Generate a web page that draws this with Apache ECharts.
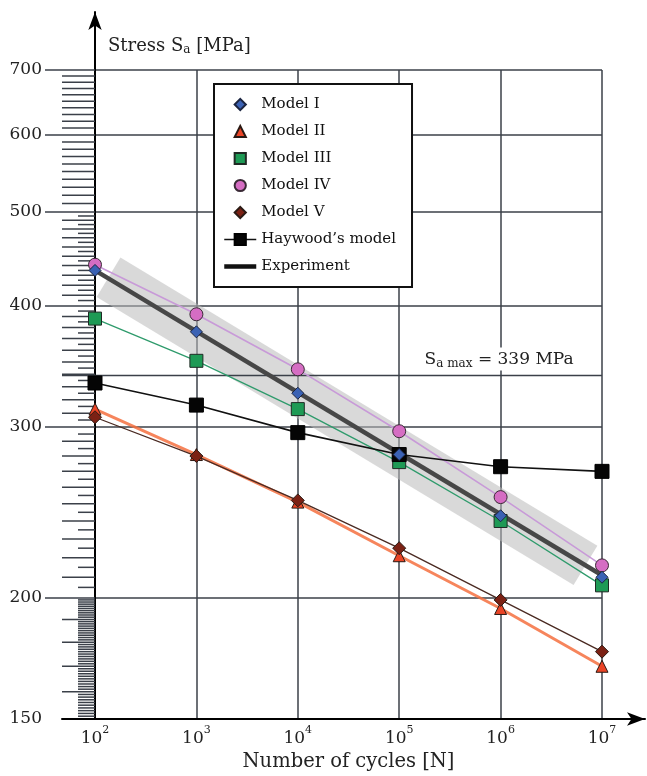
<!DOCTYPE html>
<html><head><meta charset="utf-8">
<script src="https://cdn.jsdelivr.net/npm/echarts@6/dist/echarts.min.js"></script>
<style>html,body{margin:0;padding:0;background:#fff}#c{width:647px;height:776px}</style>
</head><body><div id="c"></div>
<script>
// ---- data ----
const cycles   = [1e2, 1e3, 1e4, 1e5, 1e6, 1e7];
const modelI   = [435, 376, 325, 281, 243, 210];
const modelII  = [313, 281, 251, 221, 195, 170];
const modelIII = [388, 351, 313, 276, 240, 206];
const modelIV  = [441, 392, 344, 297, 254, 216];
const modelV   = [307, 280, 252, 225, 199, 176];
const haywood  = [333, 316, 296, 281, 273, 270];
const experimentN = [1e2, 1e7];
const experimentS = [435, 211];
const bandN = [136, 6.87e6];
const bandS = [428, 216];
const saMax = 339;
const saMaxLabelN = 1.7e5;
const yLabelTicks = [150, 200, 300, 400, 500, 600, 700];
const yGridTicks = [200, 300, 400, 500, 600, 700];
const xTicks = [1e2, 1e3, 1e4, 1e5, 1e6, 1e7];
const xExponents = ['2', '3', '4', '5', '6', '7'];
const legendNames = ['Model I', 'Model II', 'Model III', 'Model IV', 'Model V', 'Haywood\u2019s model', 'Experiment'];

// minor tick marks of the stress axis (axis decoration)
const longTicks = [];
const shortTicks = [];
for (let v = 160; v < 700; v += 10) if (v % 100 !== 0) longTicks.push(v);
for (let v = 151; v < 200; v++) if (v % 10 !== 0) shortTicks.push(v);
for (let v = 205; v < 500; v += 10) shortTicks.push(v);

const serif = 'DejaVu Serif';
const gridColor = '#3b4049';
const mk = (arr) => cycles.map((n, i) => [n, arr[i]]);
const noLine = { opacity: 0 };

const chart = echarts.init(document.getElementById('c'));
const option = {
  backgroundColor: '#fff',
  animation: false,
  grid: [
    { left: 95, right: 45, top: 70, bottom: 57, outerBoundsMode: 'none', containLabel: false },
    { left: 62, right: 2, top: 70, bottom: 57, outerBoundsMode: 'none', containLabel: false },
    { left: 95, width: 20, top: 12, bottom: 57, outerBoundsMode: 'none', containLabel: false }
  ],
  legend: {
    orient: 'vertical', left: 214, top: 84,
    itemWidth: 32, itemHeight: 14, itemGap: 12,
    padding: [13, 16, 13, 8],
    backgroundColor: '#fff', borderColor: '#111', borderWidth: 2,
    selectedMode: false,
    textStyle: { fontFamily: serif, fontSize: 15, color: '#111' },
    data: [
      { name: legendNames[0], lineStyle: noLine },
      { name: legendNames[1], lineStyle: noLine },
      { name: legendNames[2], lineStyle: noLine },
      { name: legendNames[3], lineStyle: noLine },
      { name: legendNames[4], lineStyle: noLine },
      { name: legendNames[5], lineStyle: { color: '#111', width: 1.6, opacity: 1 } },
      { name: legendNames[6], itemStyle: { opacity: 0 }, lineStyle: { color: '#111', width: 4.5, opacity: 1 } }
    ]
  },
  xAxis: [
    {
      type: 'log', logBase: 10, gridIndex: 0, min: 100, max: 1e7,
      axisLine: { show: false }, axisTick: { show: false },
      axisLabel: {
        customValues: xTicks, margin: 6, color: '#222', fontFamily: serif, fontSize: 17, lineHeight: 28,
        formatter: (v) => '10{sup|' + xExponents[xTicks.indexOf(v)] + '}',
        rich: { sup: { fontFamily: serif, fontSize: 11, lineHeight: 13, verticalAlign: 'top', color: '#222' } }
      },
      splitLine: { show: true, lineStyle: { color: gridColor, width: 1.5 } },
      name: 'Number of cycles [N]', nameLocation: 'middle', nameGap: 33, nameMoveOverlap: false,
      nameTextStyle: { fontFamily: serif, fontSize: 19.5, color: '#222' }
    },
    {
      type: 'value', gridIndex: 1, min: 0, max: 1,
      axisLine: { show: true, symbol: ['none', 'arrow'], symbolSize: [10, 18], lineStyle: { color: '#000', width: 2 } },
      axisTick: { show: false }, axisLabel: { show: false }, splitLine: { show: false }
    },
    { type: 'value', gridIndex: 2, show: false }
  ],
  yAxis: [
    {
      type: 'log', logBase: 10, gridIndex: 0, min: 150, max: 700,
      axisLine: { show: false },
      axisTick: { show: true, customValues: yGridTicks, length: 50, lineStyle: { color: gridColor, width: 1.5 } },
      axisLabel: { customValues: yLabelTicks, margin: 53, color: '#222', fontFamily: serif, fontSize: 17 },
      splitLine: { show: true, lineStyle: { color: gridColor, width: 1.5 } },
      name: 'Stress S{sub|a} [MPa]', nameLocation: 'end', nameGap: 14, nameMoveOverlap: false,
      nameTextStyle: {
        fontFamily: serif, fontSize: 18, color: '#222', align: 'left', verticalAlign: 'bottom', padding: [0, 0, 0, 13],
        rich: { sub: { fontFamily: serif, fontSize: 12, color: '#222', verticalAlign: 'bottom', padding: [8, 0, 0, 0] } }
      }
    },
    { type: 'value', gridIndex: 1, show: false },
    {
      type: 'value', gridIndex: 2, min: 0, max: 1,
      axisLine: { show: true, symbol: ['none', 'arrow'], symbolSize: [10, 18], lineStyle: { color: '#000', width: 2 } },
      axisTick: { show: false }, axisLabel: { show: false }, splitLine: { show: false }
    }
  ],
  series: [
    {
      type: 'custom', name: 'band', silent: true, z: 1,
      xAxisIndex: 0, yAxisIndex: 0,
      data: [[bandN[0], bandS[0], bandN[1], bandS[1]]],
      encode: { x: [0, 2], y: [1, 3] },
      renderItem: (params, api) => {
        const a = api.coord([api.value(0), api.value(1)]);
        const b = api.coord([api.value(2), api.value(3)]);
        const dx = b[0] - a[0], dy = b[1] - a[1], L = Math.hypot(dx, dy), w = 23;
        const nx = -dy / L * w, ny = dx / L * w;
        return { type: 'polygon', shape: { points: [[a[0] + nx, a[1] + ny], [b[0] + nx, b[1] + ny], [b[0] - nx, b[1] - ny], [a[0] - nx, a[1] - ny]] },
          style: { fill: 'rgba(185,185,185,0.55)' } };
      }
    },
    {
      type: 'custom', name: 'ticks', silent: true, clip: false, z: 1,
      xAxisIndex: 0, yAxisIndex: 0,
      data: longTicks.map(v => [cycles[0], v, 1]).concat(shortTicks.map(v => [cycles[0], v, 0])),
      encode: { x: 0, y: 1 },
      renderItem: (params, api) => {
        const p = api.coord([api.value(0), api.value(1)]);
        const len = api.value(2) ? 33 : 17;
        return { type: 'line', shape: { x1: p[0] - len, y1: p[1], x2: p[0], y2: p[1] }, style: { stroke: gridColor, lineWidth: 1.5 } };
      }
    },
    {
      type: 'custom', name: 'samax', silent: true, clip: false, z: 1,
      xAxisIndex: 0, yAxisIndex: 0,
      data: [[cycles[cycles.length - 1], saMax]],
      encode: { x: 0, y: 1 },
      renderItem: (params, api) => {
        const r = api.coord([api.value(0), api.value(1)]);
        const l = api.coord([cycles[0], api.value(1)]);
        const t = api.coord([saMaxLabelN, api.value(1)]);
        return { type: 'group', children: [
          { type: 'line', shape: { x1: l[0] - 33, y1: l[1], x2: r[0], y2: r[1] }, style: { stroke: gridColor, lineWidth: 1.5 } },
          { type: 'text', x: t[0], y: t[1] - 5, z2: 10, style: {
            text: 'S{sub|a max} = ' + saMax + ' MPa', fill: '#222',
            fontFamily: serif, fontSize: 17, align: 'left', verticalAlign: 'bottom',
            backgroundColor: '#fff', padding: [3, 2, 1, 2],
            rich: { sub: { fontFamily: serif, fontSize: 12, fill: '#222', verticalAlign: 'bottom', padding: [7, 0, 0, 0] } }
          } }
        ] };
      }
    },
    {
      type: 'line', name: legendNames[6], xAxisIndex: 0, yAxisIndex: 0, z: 3,
      data: experimentN.map((n, i) => [n, experimentS[i]]), symbol: 'none',
      lineStyle: { color: '#474747', width: 4.5 }, itemStyle: { color: '#474747' }
    },
    {
      type: 'line', name: legendNames[1], xAxisIndex: 0, yAxisIndex: 0, z: 4,
      data: mk(modelII), symbol: 'triangle', symbolSize: 12,
      lineStyle: { color: '#f4703f', width: 3, opacity: 0.85 },
      itemStyle: { color: '#ea4426', borderColor: '#2a1a14', borderWidth: 1 }
    },
    {
      type: 'line', name: legendNames[4], xAxisIndex: 0, yAxisIndex: 0, z: 4,
      data: mk(modelV), symbol: 'diamond', symbolSize: 13,
      lineStyle: { color: '#4a2a22', width: 1.3 },
      itemStyle: { color: '#7b2114', borderColor: '#2a1a14', borderWidth: 1 }
    },
    {
      type: 'line', name: legendNames[2], xAxisIndex: 0, yAxisIndex: 0, z: 4,
      data: mk(modelIII), symbol: 'rect', symbolSize: 13,
      lineStyle: { color: '#2f9b6c', width: 1.3 },
      itemStyle: { color: '#1e9a55', borderColor: '#1f2a24', borderWidth: 1 }
    },
    {
      type: 'line', name: legendNames[3], xAxisIndex: 0, yAxisIndex: 0, z: 4,
      data: mk(modelIV), symbol: 'circle', symbolSize: 13,
      lineStyle: { color: '#c89ad8', width: 1.6 },
      itemStyle: { color: '#d56dc3', borderColor: '#3a2a36', borderWidth: 1 }
    },
    {
      type: 'line', name: legendNames[5], xAxisIndex: 0, yAxisIndex: 0, z: 4,
      data: mk(haywood), symbol: 'rect', symbolSize: 14,
      lineStyle: { color: '#111', width: 1.6 },
      itemStyle: { color: '#050505', borderColor: '#000', borderWidth: 1 }
    },
    {
      type: 'line', name: legendNames[0], xAxisIndex: 0, yAxisIndex: 0, z: 5,
      data: mk(modelI), symbol: 'diamond', symbolSize: 12,
      lineStyle: { opacity: 0 },
      itemStyle: { color: '#3b62b4', borderColor: '#1b2440', borderWidth: 1 }
    }
  ]
};
chart.setOption(option);
</script>
</body></html>
